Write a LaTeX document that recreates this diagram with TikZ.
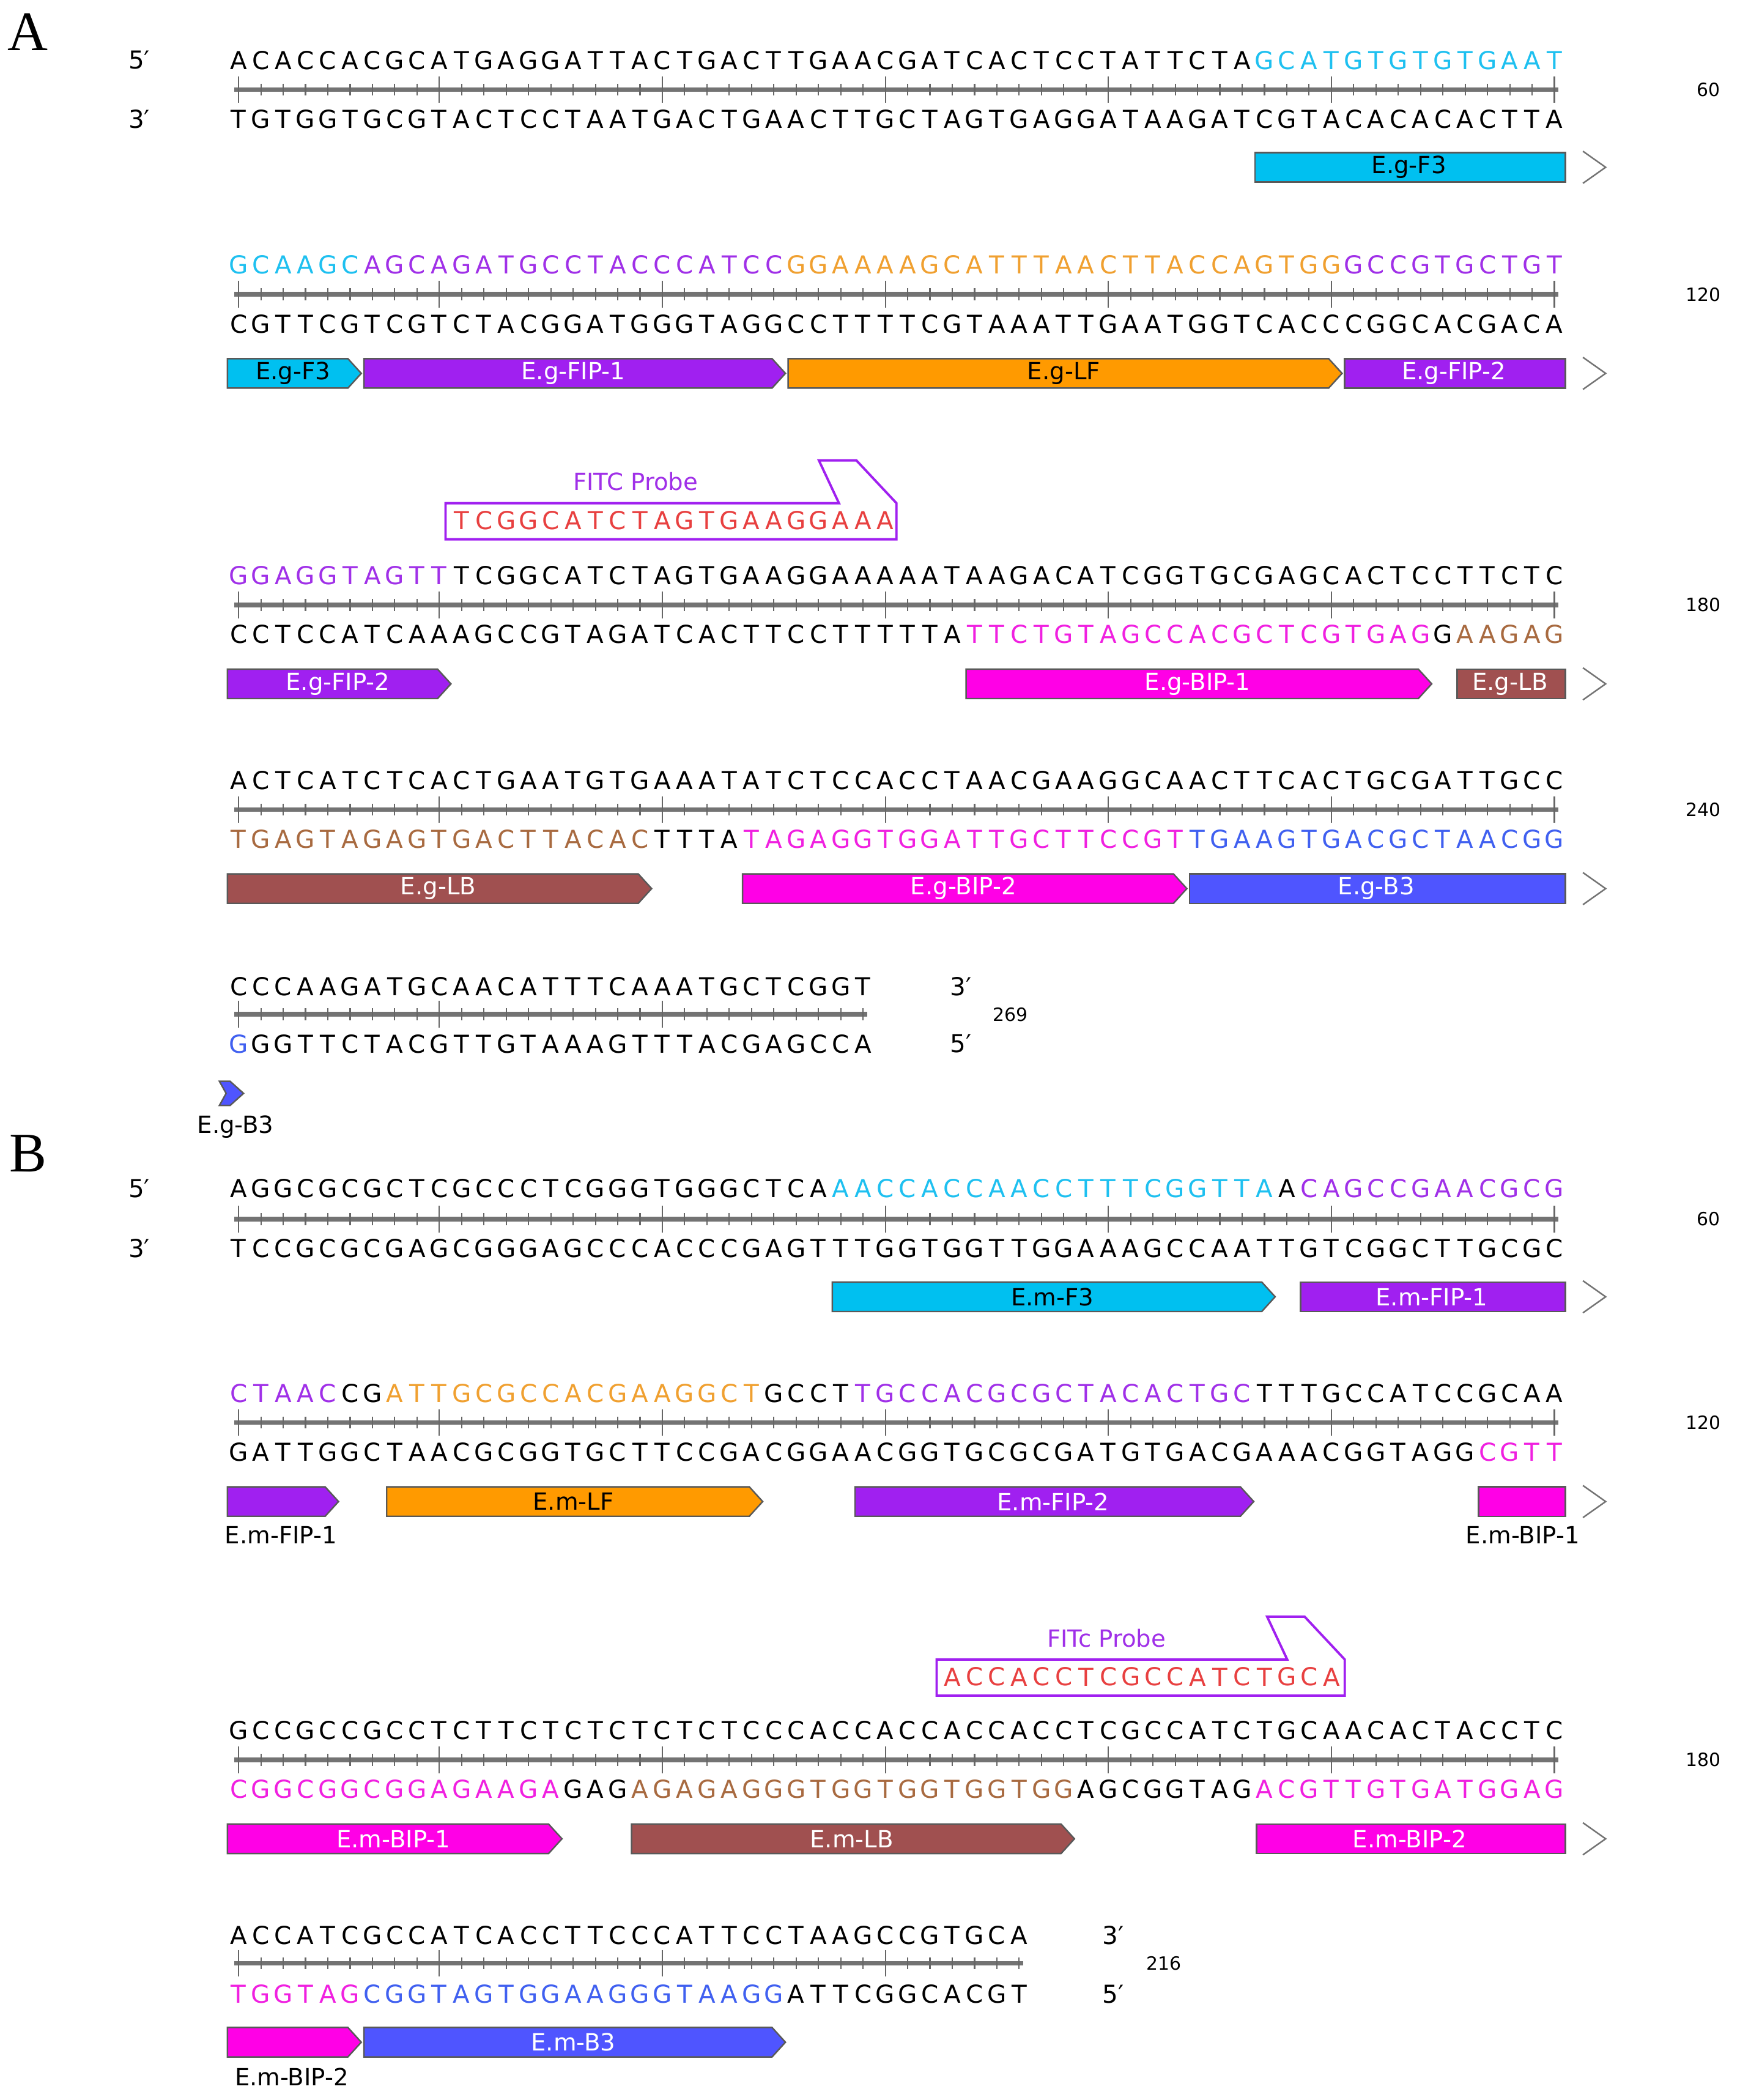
\documentclass[tikz,border=0pt]{standalone}
\usepackage{fontspec}
\setmainfont{DejaVu Sans}
\newfontfamily\panelfont{Liberation Serif}
\definecolor{cy}{HTML}{1EC0F0}\definecolor{cyf}{HTML}{00C0F0}
\definecolor{pu}{HTML}{A030E8}\definecolor{puf}{HTML}{A020F0}
\definecolor{orr}{HTML}{F0A030}\definecolor{orf}{HTML}{FF9A00}
\definecolor{mg}{HTML}{F020E0}\definecolor{mgf}{HTML}{FF00E6}
\definecolor{br}{HTML}{A86A40}\definecolor{brf}{HTML}{A05050}
\definecolor{bl}{HTML}{4060F0}\definecolor{blf}{HTML}{4F55FF}
\definecolor{pr}{HTML}{E84040}
\tikzset{
 base/.style={font=\fontsize{11.5}{12}\selectfont,inner sep=0pt,anchor=center},
 flab/.style={font=\fontsize{11}{12}\selectfont,inner sep=0pt},
 num/.style={font=\fontsize{8.5}{10}\selectfont,inner sep=0pt},
 rul/.style={draw=black!55,line width=2.2pt},
 tick/.style={draw=black!60,line width=0.6pt},
 chev/.style={draw=black!55,line width=0.7pt},
 fbox/.style={draw=black!65,line width=0.7pt},
 probe/.style={draw=puf,line width=1.1pt,fill=white},
}
\newcommand\sq[4]{\def\sqy{#1}\def\sqc{#3}\pgfmathtruncatemacro\sqi{#2}\sqloop#4\relax}
\def\sqloop#1{\ifx#1\relax\else\node[base,text=\sqc] at ({170+16.667*(\sqi-0.5)},\sqy) {#1};\pgfmathtruncatemacro\sqi{\sqi+1}\expandafter\sqloop\fi}
\newcommand\ruler[2]{\draw[rul] (175,#1) -- ({170+16.667*(#2-0.5)+3},#1);
 \foreach \i in {1,...,#2}{\pgfmathsetmacro\tl{(\i==1||mod(\i,10)==0)?10:4.5}\draw[tick] ({170+16.667*(\i-0.5)},#1-\tl) -- ++(0,2*\tl);}}
\newcommand\ft[7]{\fill[#5,fbox] ({#2+2},#4-11) -- ({#3-10},#4-11) -- (#3,#4) -- ({#3-10},#4+11) -- ({#2+2},#4+11) -- cycle;
 \node[flab,text=#6] (#1) at ({(#2+#3)/2},#4) {#7};}
\newcommand\fr[7]{\fill[#5,fbox] ({#2+2},#4-11) rectangle (#3,#4+11);
 \node[flab,text=#6] (#1) at ({(#2+#3)/2},#4) {#7};}
\newcommand\chev[1]{\draw[chev] (1183,#1-12) -- (1200,#1) -- (1183,#1+12);}
\begin{document}
\begin{tikzpicture}[x=0.021877cm,y=-0.021877cm]
\useasboundingbox[fill=white] (0,0) rectangle (1300,1569.2);
\node[font=\panelfont\fontsize{26}{28}\selectfont,inner sep=0pt] (pA) at (21,24) {A};
\node[font=\panelfont\fontsize{26}{28}\selectfont,inner sep=0pt] (pB) at (21,862) {B};
% ===== A row 1
\node[base] (a5) at (104,45) {5′};\node[base] (a3) at (104,89) {3′};
\sq{45}{1}{black}{ACACCACGCATGAGGATTACTGACTTGAACGATCACTCCTATTCTA}\sq{45}{47}{cy}{GCATGTGTGTGAAT}
\ruler{67}{60}\node[num] (n1) at (1277,67) {60};
\sq{89}{1}{black}{TGTGGTGCGTACTCCTAATGACTGAACTTGCTAGTGAGGATAAGATCGTACACACACTTA}
\fr{fa1}{936}{1170}{125}{cyf}{black}{E.g-F3}\chev{125}
% ===== A row 2
\sq{198}{1}{cy}{GCAAGC}\sq{198}{7}{pu}{AGCAGATGCCTACCCATCC}\sq{198}{26}{orr}{GGAAAAGCATTTAACTTACCAGTGG}\sq{198}{51}{pu}{GCCGTGCTGT}
\ruler{220}{60}\node[num] (n2) at (1273,220) {120};
\sq{242}{1}{black}{CGTTCGTCGTCTACGGATGGGTAGGCCTTTTCGTAAATTGAATGGTCACCCGGCACGACA}
\ft{fa2}{168}{270}{279}{cyf}{black}{E.g-F3}\ft{fa3}{270}{587}{279}{puf}{white}{E.g-FIP-1}
\ft{fa4}{587}{1003}{279}{orf}{black}{E.g-LF}\fr{fa5}{1003}{1170}{279}{puf}{white}{E.g-FIP-2}\chev{279}
% ===== A row 3
\filldraw[probe] (333,376)--(627,376)--(612,344)--(640,344)--(670,376)--(670,403)--(333,403)--cycle;
\node[flab,text=pu] (pla) at (475,360) {FITC Probe};
\sq{389}{11}{pr}{TCGGCATCTAGTGAAGGAAA}
\sq{430}{1}{pu}{GGAGGTAGTT}\sq{430}{11}{black}{TCGGCATCTAGTGAAGGAAAAATAAGACATCGGTGCGAGCACTCCTTCTC}
\ruler{452}{60}\node[num] (n3) at (1273,452) {180};
\sq{474}{1}{black}{CCTCCATCAAAGCCGTAGATCACTTCCTTTTTA}\sq{474}{34}{mg}{TTCTGTAGCCACGCTCGTGAG}\sq{474}{55}{black}{G}\sq{474}{56}{br}{AAGAG}
\ft{fa6}{168}{337}{511}{puf}{white}{E.g-FIP-2}\ft{fa7}{720}{1070}{511}{mgf}{white}{E.g-BIP-1}\fr{fa8}{1087}{1170}{511}{brf}{white}{E.g-LB}\chev{511}
% ===== A row 4
\sq{583}{1}{black}{ACTCATCTCACTGAATGTGAAATATCTCCACCTAACGAAGGCAACTTCACTGCGATTGCC}
\ruler{605}{60}\node[num] (n4) at (1273,605) {240};
\sq{627}{1}{br}{TGAGTAGAGTGACTTACAC}\sq{627}{20}{black}{TTTA}\sq{627}{24}{mg}{TAGAGGTGGATTGCTTCCGT}\sq{627}{44}{bl}{TGAAGTGACGCTAACGG}
\ft{fa9}{168}{487}{664}{brf}{white}{E.g-LB}\ft{fa10}{553}{887}{664}{mgf}{white}{E.g-BIP-2}\fr{fa11}{887}{1170}{664}{blf}{white}{E.g-B3}\chev{664}
% ===== A row 5
\sq{737}{1}{black}{CCCAAGATGCAACATTTCAAATGCTCGGT}
\ruler{758}{29}
\sq{780}{1}{bl}{G}\sq{780}{2}{black}{GGTTCTACGTTGTAAAGTTTACGAGCCA}
\node[base] (a3e) at (718,737) {3′};\node[base] (a5e) at (718,780) {5′};\node[num] (n5) at (755,758) {269};
\fill[blf,fbox] (164,808)--(172,808)--(182,817)--(172,826)--(164,826)--(169,817)--cycle;
\node[flab] (fa12) at (176,842) {E.g-B3};
% ===== B row 1
\node[base] (b5) at (104,888) {5′};\node[base] (b3) at (104,933) {3′};
\sq{888}{1}{black}{AGGCGCGCTCGCCCTCGGGTGGGCTCA}\sq{888}{28}{cy}{AACCACCAACCTTTCGGTTA}\sq{888}{48}{black}{A}\sq{888}{49}{pu}{CAGCCGAACGCG}
\ruler{911}{60}\node[num] (n6) at (1277,911) {60};
\sq{933}{1}{black}{TCCGCGCGAGCGGGAGCCCACCCGAGTTTGGTGGTTGGAAAGCCAATTGTCGGCTTGCGC}
\ft{fb1}{620}{953}{969}{cyf}{black}{E.m-F3}\fr{fb2}{970}{1170}{969}{puf}{white}{E.m-FIP-1}\chev{969}
% ===== B row 2
\sq{1041}{1}{pu}{CTAAC}\sq{1041}{6}{black}{CG}\sq{1041}{8}{orr}{ATTGCGCCACGAAGGCT}\sq{1041}{25}{black}{GCCT}\sq{1041}{29}{pu}{TGCCACGCGCTACACTGC}\sq{1041}{47}{black}{TTTGCCATCCGCAA}
\ruler{1063}{60}\node[num] (n7) at (1273,1063) {120};
\sq{1085}{1}{black}{GATTGGCTAACGCGGTGCTTCCGACGGAACGGTGCGCGATGTGACGAAACGGTAGG}\sq{1085}{57}{mg}{CGTT}
\fill[puf,fbox] (170,1111)--(243,1111)--(253,1122)--(243,1133)--(170,1133)--cycle;
\node[flab] (fb3) at (210,1147) {E.m-FIP-1};
\ft{fb4}{287}{570}{1122}{orf}{black}{E.m-LF}\ft{fb5}{637}{937}{1122}{puf}{white}{E.m-FIP-2}
\fill[mgf,fbox] (1105,1111) rectangle (1170,1133);
\node[flab] (fb6) at (1138,1147) {E.m-BIP-1};\chev{1122}
% ===== B row 3
\filldraw[probe] (700,1240)--(962,1240)--(947,1208)--(975,1208)--(1005,1240)--(1005,1267)--(700,1267)--cycle;
\node[flab,text=pu] (plb) at (827,1224) {FITc Probe};
\sq{1253}{33}{pr}{ACCACCTCGCCATCTGCA}
\sq{1293}{1}{black}{GCCGCCGCCTCTTCTCTCTCTCTCCCACCACCACCACCTCGCCATCTGCAACACTACCTC}
\ruler{1315}{60}\node[num] (n8) at (1273,1315) {180};
\sq{1337}{1}{mg}{CGGCGGCGGAGAAGA}\sq{1337}{16}{black}{GAG}\sq{1337}{19}{br}{AGAGAGGGTGGTGGTGGTGG}\sq{1337}{39}{black}{AGCGGTAG}\sq{1337}{47}{mg}{ACGTTGTGATGGAG}
\ft{fb7}{168}{420}{1374}{mgf}{white}{E.m-BIP-1}\ft{fb8}{470}{803}{1374}{brf}{white}{E.m-LB}\fr{fb9}{937}{1170}{1374}{mgf}{white}{E.m-BIP-2}\chev{1374}
% ===== B row 4
\sq{1446}{1}{black}{ACCATCGCCATCACCTTCCCATTCCTAAGCCGTGCA}
\ruler{1467}{36}
\sq{1490}{1}{mg}{TGGTAG}\sq{1490}{7}{bl}{CGGTAGTGGAAGGGTAAGG}\sq{1490}{26}{black}{ATTCGGCACGT}
\node[base] (b3e) at (832,1446) {3′};\node[base] (b5e) at (832,1490) {5′};\node[num] (n9) at (870,1467) {216};
\fill[mgf,fbox] (170,1515)--(260,1515)--(270,1526)--(260,1537)--(170,1537)--cycle;
\ft{fb10}{270}{587}{1526}{blf}{white}{E.m-B3}
\node[flab] (fb11) at (218,1552) {E.m-BIP-2};
\end{tikzpicture}
\end{document}
